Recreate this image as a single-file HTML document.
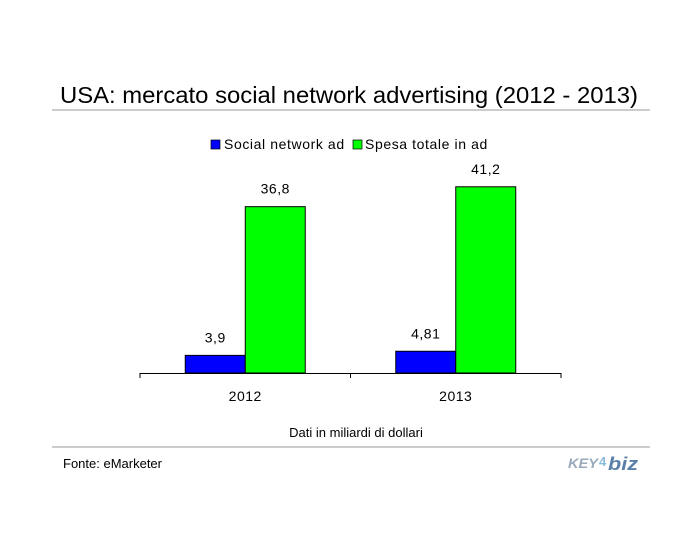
<!DOCTYPE html>
<html><head><meta charset="utf-8"><style>
body{margin:0;background:#fff;font-family:"Liberation Sans",Arial,sans-serif;}
svg text{font-family:"Liberation Sans",Arial,sans-serif;}
</style></head><body>
<svg width="700" height="550" xmlns="http://www.w3.org/2000/svg">
<text x="60" y="103" font-size="23" fill="#000" textLength="578" lengthAdjust="spacingAndGlyphs">USA: mercato social network advertising (2012 - 2013)</text>
<line x1="52" y1="110" x2="650" y2="110" stroke="#999"/>
<g>
<rect x="211" y="140" width="9" height="9" fill="#0000ff" stroke="#000" stroke-width="0.7"/>
<text x="224" y="149" font-size="14" letter-spacing="0.6">Social network ad</text>
<rect x="353" y="140" width="9" height="9" fill="#00ff00" stroke="#000" stroke-width="0.7"/>
<text x="365" y="149" font-size="14" letter-spacing="0.6">Spesa totale in ad</text>
</g>
<g id="plot"></g>
<text x="356" y="437" font-size="13" text-anchor="middle">Dati in miliardi di dollari</text>
<line x1="52" y1="447" x2="650" y2="447" stroke="#999"/>
<text x="63" y="468" font-size="13">Fonte: eMarketer</text>
<g>
<text x="568" y="468" font-size="14" font-weight="bold" fill="#9ab" font-style="italic" textLength="30" lengthAdjust="spacingAndGlyphs">KEY</text>
<text x="599" y="466" font-size="13" font-weight="bold" fill="#8bd">4</text>
<text x="608" y="470" font-size="18" font-weight="bold" fill="#5a7fa8" font-style="italic" textLength="30" lengthAdjust="spacingAndGlyphs">biz</text>
</g>
</svg>
<script>
const categories=["2012","2013"];
const socialValues=[3.9,4.81];
const totalValues=[36.8,41.2];
const socialLabels=["3,9","4,81"];
const totalLabels=["36,8","41,2"];
const NS="http://www.w3.org/2000/svg";
const g=document.getElementById('plot');
const x0=140,x1=561,baseY=373,scale=4.52;
const bw=(x1-x0)/categories.length;
function yOf(v){return baseY-v*scale;}
function mk(t,a){const e=document.createElementNS(NS,t);for(const k in a)e.setAttribute(k,a[k]);g.appendChild(e);return e;}
categories.forEach((c,i)=>{
  const cx=x0+bw*(i+0.5);
  const series=[[socialValues,socialLabels,"#0000ff","social"],[totalValues,totalLabels,"#00ff00","total"]];
  series.forEach((s,j)=>{
    const bx=cx-60+j*60, v=s[0][i];
    const r=mk('rect',{x:bx,y:yOf(v),width:60,height:baseY-yOf(v),fill:s[2],stroke:'#000','stroke-width':1});
    
    
    const t=mk('text',{x:bx+30,y:yOf(v)-13,'font-size':14,'text-anchor':'middle','letter-spacing':'0.5'});
    t.textContent=s[1][i];
    
    
  });
  const lt=mk('text',{x:cx,y:401,'font-size':14,'text-anchor':'middle','letter-spacing':'0.5'});
  lt.textContent=c;
  
  
});
const ax=mk('line',{x1:x0,y1:baseY+0.5,x2:x1,y2:baseY+0.5,stroke:'#000'});


for(let i=0;i<=categories.length;i++){
  const tx=x0+bw*i;
  const tk=mk('line',{x1:tx,y1:baseY,x2:tx,y2:baseY+5,stroke:'#000'});
  
  
}
</script>
</body></html>
